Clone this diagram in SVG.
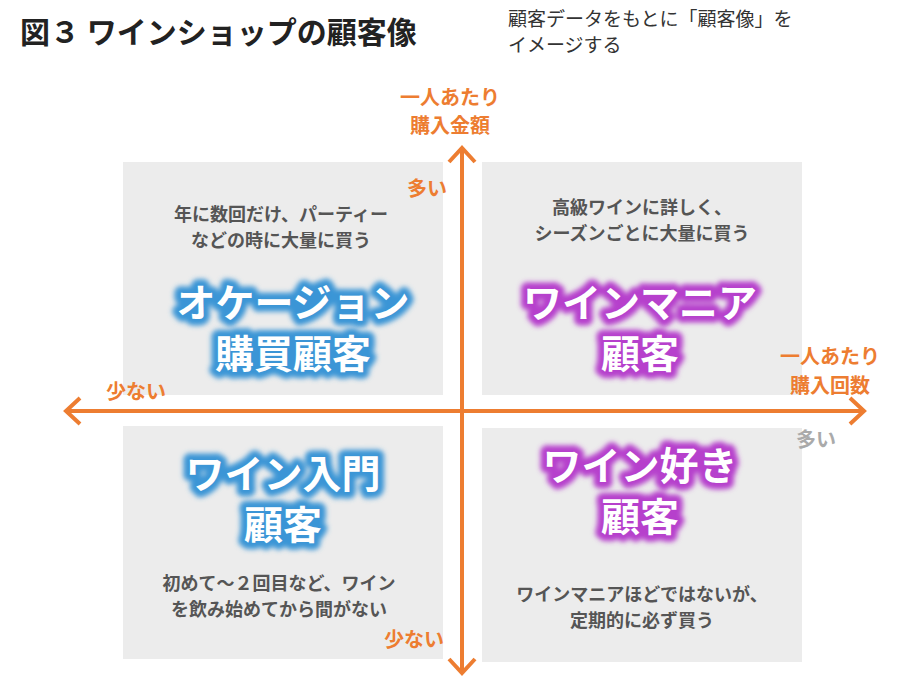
<svg xmlns="http://www.w3.org/2000/svg" width="899" height="698" viewBox="0 0 899 698">
<style>
text{font-family:"Noto Sans CJK JP","Noto Sans",sans-serif}
.box{fill:#ececec}
.desc{font-size:18px;fill:#555;font-weight:bold;text-anchor:middle}
.big{font-size:39px;font-weight:bold;text-anchor:middle}
.glowb{fill:#3b95d6;stroke:#3b95d6;stroke-width:13;stroke-linejoin:round;filter:url(#bl)}
.glowp{fill:#b63fcc;stroke:#b63fcc;stroke-width:13;stroke-linejoin:round;filter:url(#bl)}
.w{fill:#fff}
.ax{font-size:20px;font-weight:bold;fill:#ed7d31;text-anchor:middle}
.axis{stroke:#ed7d31;stroke-width:4;fill:none}
</style>
<defs>
<filter id="bl" x="-20%" y="-40%" width="140%" height="180%"><feGaussianBlur stdDeviation="2.5"/></filter>
</defs>
<rect width="899" height="698" fill="#fff"/>
<text x="20" y="43" font-size="30" font-weight="bold" fill="#222">図３ ワインショップの顧客像</text>
<text x="508" y="26" font-size="19" fill="#333">顧客データをもとに「顧客像」を</text>
<text x="508" y="52" font-size="19" fill="#333">イメージする</text>
<g id="tl"><rect class="box" x="123" y="162" width="320" height="233"/>
<text class="desc" x="281" y="221">年に数回だけ、パーティー</text><text class="desc" x="281" y="247">などの時に大量に買う</text>
<text class="big glowb" x="293" y="317">オケージョン</text><text class="big glowb" x="293" y="368">購買顧客</text>
<text class="big w" x="293" y="317">オケージョン</text><text class="big w" x="293" y="368">購買顧客</text></g>
<g id="tr"><rect class="box" x="482" y="162" width="320" height="233"/>
<text class="desc" x="642" y="214">高級ワインに詳しく、</text><text class="desc" x="642" y="240">シーズンごとに大量に買う</text>
<text class="big glowp" x="640" y="317">ワインマニア</text><text class="big glowp" x="640" y="368">顧客</text>
<text class="big w" x="640" y="317">ワインマニア</text><text class="big w" x="640" y="368">顧客</text></g>
<g id="bl2"><rect class="box" x="123" y="426" width="320" height="233"/>
<text class="big glowb" x="283" y="488">ワイン入門</text><text class="big glowb" x="283" y="539">顧客</text>
<text class="big w" x="283" y="488">ワイン入門</text><text class="big w" x="283" y="539">顧客</text>
<text class="desc" x="279" y="590">初めて～２回目など、ワイン</text><text class="desc" x="279" y="616">を飲み始めてから間がない</text></g>
<g id="br"><rect class="box" x="482" y="428" width="320" height="234"/>
<text class="big glowp" x="640" y="480">ワイン好き</text><text class="big glowp" x="640" y="531">顧客</text>
<text class="big w" x="640" y="480">ワイン好き</text><text class="big w" x="640" y="531">顧客</text>
<text class="desc" x="642" y="601">ワインマニアほどではないが、</text><text class="desc" x="642" y="627">定期的に必ず買う</text></g>
<g id="connectors">
<line class="axis" x1="66" y1="411" x2="864" y2="411"/>
<polyline class="axis" points="80,398 66,411 80,424"/>
<polyline class="axis" points="850,398 864,411 850,424"/>
<line class="axis" x1="462" y1="148" x2="462" y2="673"/>
<polyline class="axis" points="449,162 462,148 475,162"/>
<polyline class="axis" points="449,659 462,673 475,659"/>
</g>
<text class="ax" x="450" y="105">一人あたり</text><text class="ax" x="450" y="133">購入金額</text>
<text class="ax" x="427" y="196">多い</text>
<text class="ax" x="136" y="399">少ない</text>
<text class="ax" x="830" y="364">一人あたり</text><text class="ax" x="830" y="393">購入回数</text>
<text class="ax" x="816" y="447" style="fill:#aaa">多い</text>
<text class="ax" x="414" y="647">少ない</text>
</svg>
